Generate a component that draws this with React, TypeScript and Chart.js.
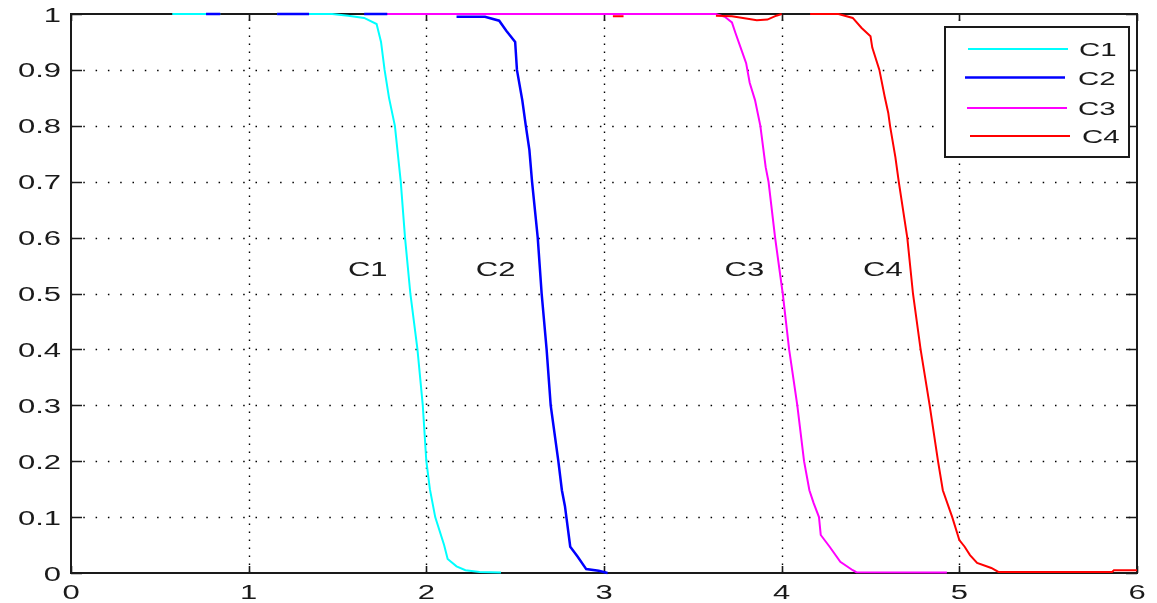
import React, { useEffect, useRef } from 'react';
import { Chart, registerables } from 'chart.js';

Chart.register(...registerables);

const seriesNames = ['C1', 'C2', 'C3', 'C4'];
const seriesColors = ['#00ffff', '#0000ff', '#ff00ff', '#ff0000'];
const seriesWidths = [2, 2.5, 2, 2];

const c1X = [0.57, 0.84, null, 1.16, 1.47, 1.56, 1.65, 1.72, 1.745, 1.765, 1.79, 1.823, 1.856, 1.88, 1.91, 1.95, 1.98, 2.0, 2.02, 2.05, 2.1, 2.12, 2.17, 2.22, 2.3, 2.42];
const c1Y = [1, 1, null, 1, 1, 0.997, 0.993, 0.982, 0.95, 0.9, 0.85, 0.8, 0.7, 0.6, 0.5, 0.4, 0.3, 0.2, 0.15, 0.1, 0.05, 0.025, 0.012, 0.005, 0.002, 0.001];

const c2X = [0.76, 0.84, null, 1.16, 1.34, null, 1.65, 1.78, null, 2.17, 2.33, 2.41, 2.45, 2.5, 2.51, 2.54, 2.56, 2.58, 2.595, 2.627, 2.649, 2.677, 2.7, 2.743, 2.763, 2.78, 2.81, 2.85, 2.9, 2.97, 3.02];
const c2Y = [1, 1, null, 1, 1, null, 1, 1, null, 0.995, 0.995, 0.988, 0.97, 0.95, 0.9, 0.846, 0.8, 0.757, 0.7, 0.6, 0.5, 0.4, 0.3, 0.2, 0.148, 0.12, 0.047, 0.03, 0.007, 0.004, 0];

const c3X = [1.78, 3.63, 3.68, 3.72, 3.74, 3.78, 3.8, 3.82, 3.85, 3.88, 3.91, 3.926, 3.963, 4.006, 4.042, 4.088, 4.126, 4.156, 4.18, 4.21, 4.22, 4.27, 4.33, 4.4, 4.42, 4.93];
const c3Y = [1, 1, 0.995, 0.985, 0.966, 0.93, 0.912, 0.877, 0.846, 0.8, 0.726, 0.7, 0.6, 0.5, 0.4, 0.3, 0.2, 0.148, 0.125, 0.1, 0.068, 0.047, 0.02, 0.005, 0.0015, 0.001];

const c4X = [3.05, 3.11, null, 3.63, 3.72, 3.8, 3.86, 3.92, 3.97, 4.0, null, 4.16, 4.32, 4.4, 4.45, 4.5, 4.51, 4.55, 4.58, 4.6, 4.61, 4.64, 4.659, 4.707, 4.739, 4.782, 4.833, 4.88, 4.907, 4.96, 5.0, 5.03, 5.06, 5.1, 5.18, 5.22, 5.86, 5.87, 6.0];
const c4Y = [0.996, 0.996, null, 0.997, 0.996, 0.992, 0.989, 0.99, 0.997, 1, null, 1, 1, 0.993, 0.975, 0.96, 0.94, 0.9, 0.852, 0.823, 0.8, 0.744, 0.7, 0.6, 0.5, 0.4, 0.3, 0.2, 0.148, 0.1, 0.059, 0.047, 0.032, 0.018, 0.009, 0.002, 0.002, 0.005, 0.005];

const xTickValues = [0, 1, 2, 3, 4, 5, 6];
const xTickLabels = ['0', '1', '2', '3', '4', '5', '6'];
const yTickValues = [0, 0.1, 0.2, 0.3, 0.4, 0.5, 0.6, 0.7, 0.8, 0.9, 1];
const yTickLabels = ['0', '0.1', '0.2', '0.3', '0.4', '0.5', '0.6', '0.7', '0.8', '0.9', '1'];

const annotationNames = ['C1', 'C2', 'C3', 'C4'];
const annotationX = [1.67, 2.39, 3.79, 4.57];
const annotationY = [0.546, 0.546, 0.546, 0.546];

const seriesX = [c1X, c2X, c3X, c4X];
const seriesY = [c1Y, c2Y, c3Y, c4Y];

const FONT = '20px "Liberation Sans", Arial, sans-serif';
const STRETCH = 1.55;
const INK = '#1a1a1a';

function stretchedText(ctx: CanvasRenderingContext2D, text: string, x: number, y: number, align: CanvasTextAlign, font = FONT) {
  ctx.save();
  ctx.translate(x, y);
  ctx.scale(STRETCH, 1);
  ctx.font = font;
  ctx.textAlign = align;
  ctx.textBaseline = 'alphabetic';
  ctx.fillStyle = INK;
  ctx.fillText(text, 0, 0);
  ctx.restore();
}

const matlabPlugin = {
  id: 'matlabAxes',
  beforeDatasetsDraw(chart: any) {
    const { ctx, chartArea: a, scales } = chart;
    const xs = scales.x;
    const ys = scales.y;
    ctx.save();
    // dotted grid
    ctx.strokeStyle = '#000';
    ctx.lineWidth = 1.4;
    ctx.setLineDash([1.5, 6.5]);
    xTickValues.forEach((v) => {
      if (v === xs.min || v === xs.max) return;
      const px = Math.round(xs.getPixelForValue(v)) + 0.5;
      ctx.beginPath();
      ctx.moveTo(px, a.bottom);
      ctx.lineTo(px, a.top);
      ctx.stroke();
    });
    ctx.setLineDash([1.5, 10.8]);
    yTickValues.forEach((v) => {
      if (v === ys.min || v === ys.max) return;
      const py = Math.round(ys.getPixelForValue(v)) + 0.5;
      ctx.beginPath();
      ctx.moveTo(a.left, py);
      ctx.lineTo(a.right, py);
      ctx.stroke();
    });
    ctx.setLineDash([]);
    // inward ticks
    ctx.strokeStyle = INK;
    ctx.lineWidth = 1.6;
    xTickValues.forEach((v) => {
      const px = Math.round(xs.getPixelForValue(v)) + 0.5;
      ctx.beginPath();
      ctx.moveTo(px, a.bottom);
      ctx.lineTo(px, a.bottom - 7);
      ctx.moveTo(px, a.top);
      ctx.lineTo(px, a.top + 7);
      ctx.stroke();
    });
    yTickValues.forEach((v) => {
      const py = Math.round(ys.getPixelForValue(v)) + 0.5;
      ctx.beginPath();
      ctx.moveTo(a.left, py);
      ctx.lineTo(a.left + 11, py);
      ctx.moveTo(a.right, py);
      ctx.lineTo(a.right - 11, py);
      ctx.stroke();
    });
    // box
    ctx.lineWidth = 2;
    ctx.strokeRect(a.left, a.top, a.right - a.left, a.bottom - a.top);
    // tick labels
    xTickValues.forEach((v, i) => {
      const px = xs.getPixelForValue(v);
      stretchedText(ctx, xTickLabels[i], px, a.bottom + 26, 'center');
    });
    yTickValues.forEach((v, i) => {
      const py = ys.getPixelForValue(v);
      stretchedText(ctx, yTickLabels[i], a.left - 10, py + 7.5, 'right');
    });
    ctx.restore();
  },
  afterDatasetsDraw(chart: any) {
    const { ctx, scales } = chart;
    const xs = scales.x;
    const ys = scales.y;
    ctx.save();
    // in-plot labels
    annotationNames.forEach((t, i) => {
      const px = xs.getPixelForValue(annotationX[i]);
      const py = ys.getPixelForValue(annotationY[i]);
      stretchedText(ctx, t, px, py + 8, 'center');
    });
    // legend box
    const lx = 945, ly = 27, lw = 184, lh = 130;
    ctx.fillStyle = '#ffffff';
    ctx.fillRect(lx, ly, lw, lh);
    ctx.strokeStyle = INK;
    ctx.lineWidth = 2;
    ctx.strokeRect(lx, ly, lw, lh);
    const rowY = [49, 77.5, 108, 136];
    const lineStart = [968, 965, 967, 970];
    const textStart = [1079, 1078, 1078, 1082];
    seriesNames.forEach((name, i) => {
      ctx.strokeStyle = seriesColors[i];
      ctx.lineWidth = seriesWidths[i];
      ctx.beginPath();
      ctx.moveTo(lineStart[i], rowY[i]);
      ctx.lineTo(lineStart[i] + 100, rowY[i]);
      ctx.stroke();
      stretchedText(ctx, name, textStart[i], rowY[i] + 7, 'left', '19px "Liberation Sans", Arial, sans-serif');
    });
    ctx.restore();
  },
};

export default function App() {
  const canvasRef = useRef<HTMLCanvasElement | null>(null);

  useEffect(() => {
    if (!canvasRef.current) return;
    const datasets = seriesNames.map((name, i) => ({
      label: name,
      data: seriesX[i].map((x, j) => ({ x: x, y: seriesY[i][j] })),
      borderColor: seriesColors[i],
      backgroundColor: seriesColors[i],
      borderWidth: seriesWidths[i],
      pointRadius: 0,
      tension: 0,
      spanGaps: false,
      clip: false as any,
      order: 4 - i,
    }));
    const chart = new Chart(canvasRef.current, {
      type: 'line',
      data: { datasets },
      options: {
        animation: false,
        responsive: false,
        maintainAspectRatio: false,
        devicePixelRatio: 1,
        layout: { padding: { left: 71, right: 20, top: 14, bottom: 30 } },
        plugins: { legend: { display: false }, tooltip: { enabled: false } },
        scales: {
          x: { type: 'linear', min: 0, max: 6, display: false },
          y: { type: 'linear', min: 0, max: 1, display: false },
        },
      },
      plugins: [matlabPlugin],
    });
    return () => chart.destroy();
  }, []);

  return (
    <div style={{ position: 'absolute', left: 0, top: 0, width: 1157, height: 603, background: '#fff' }}>
      <canvas ref={canvasRef} width={1157} height={603} />
    </div>
  );
}
